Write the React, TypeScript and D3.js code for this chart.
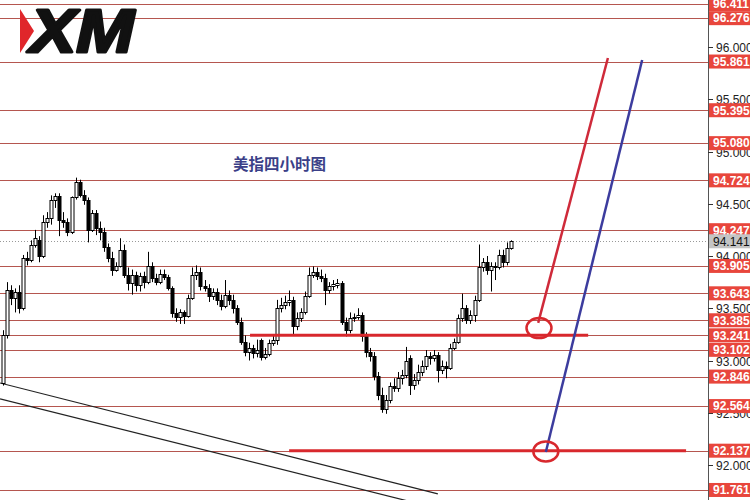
import * as d3 from 'd3';

// 4H candles: [open, high, low, close]
const candles: [number, number, number, number][] = [
  [92.78, 93.29, 92.76, 93.24], [93.24, 93.75, 93.21, 93.67], [93.67, 93.72, 93.53, 93.60], [93.60, 93.69, 93.46, 93.66],
  [93.66, 93.72, 93.45, 93.50], [93.50, 94.01, 93.48, 93.98], [93.98, 94.04, 93.91, 93.96], [93.96, 94.15, 93.94, 94.11],
  [94.11, 94.25, 94.08, 94.17], [94.15, 94.19, 93.94, 94.00], [94.00, 94.39, 93.98, 94.33], [94.33, 94.42, 94.27, 94.36],
  [94.36, 94.58, 94.30, 94.54], [94.54, 94.60, 94.46, 94.57], [94.57, 94.60, 94.19, 94.34], [94.34, 94.42, 94.27, 94.33],
  [94.33, 94.36, 94.19, 94.23], [94.23, 94.57, 94.21, 94.56], [94.56, 94.75, 94.54, 94.71], [94.71, 94.73, 94.56, 94.58],
  [94.58, 94.63, 94.49, 94.54], [94.54, 94.56, 94.13, 94.25], [94.25, 94.44, 94.23, 94.41], [94.41, 94.44, 94.20, 94.27],
  [94.27, 94.33, 94.15, 94.23], [94.23, 94.27, 94.04, 94.09], [94.09, 94.12, 93.94, 93.98], [93.98, 94.04, 93.81, 93.87],
  [93.87, 93.94, 93.85, 93.90], [93.90, 94.17, 93.89, 94.06], [94.06, 94.11, 93.79, 93.82], [93.82, 93.89, 93.67, 93.74],
  [93.74, 93.87, 93.63, 93.82], [93.82, 93.85, 93.66, 93.72], [93.72, 93.84, 93.66, 93.81], [93.81, 93.85, 93.69, 93.75],
  [93.75, 94.04, 93.73, 93.90], [93.90, 93.94, 93.75, 93.79], [93.79, 93.83, 93.72, 93.75], [93.75, 93.87, 93.73, 93.83],
  [93.83, 93.87, 93.77, 93.80], [93.80, 93.82, 93.67, 93.69], [93.69, 93.71, 93.41, 93.45], [93.45, 93.50, 93.37, 93.42],
  [93.42, 93.49, 93.35, 93.46], [93.46, 93.48, 93.35, 93.43], [93.43, 93.63, 93.41, 93.60], [93.60, 93.89, 93.58, 93.82],
  [93.82, 93.91, 93.77, 93.85], [93.85, 93.89, 93.67, 93.71], [93.71, 93.77, 93.66, 93.69], [93.69, 93.73, 93.56, 93.62],
  [93.62, 93.69, 93.58, 93.66], [93.66, 93.69, 93.53, 93.58], [93.58, 93.63, 93.48, 93.52], [93.52, 93.77, 93.50, 93.63],
  [93.63, 93.67, 93.53, 93.58], [93.58, 93.63, 93.45, 93.50], [93.50, 93.53, 93.34, 93.37], [93.37, 93.41, 93.15, 93.18],
  [93.18, 93.24, 93.04, 93.08], [93.08, 93.17, 93.00, 93.12], [93.12, 93.15, 93.02, 93.07], [93.07, 93.20, 93.03, 93.10],
  [93.20, 93.21, 93.00, 93.03], [93.03, 93.12, 93.01, 93.06], [93.06, 93.20, 93.04, 93.17], [93.17, 93.24, 93.14, 93.20],
  [93.20, 93.58, 93.15, 93.50], [93.50, 93.60, 93.46, 93.53], [93.53, 93.62, 93.49, 93.56], [93.56, 93.67, 93.52, 93.58],
  [93.58, 93.61, 93.24, 93.33], [93.33, 93.46, 93.29, 93.41], [93.41, 93.50, 93.37, 93.46], [93.46, 93.66, 93.44, 93.62],
  [93.62, 93.89, 93.60, 93.82], [93.82, 93.90, 93.79, 93.85], [93.85, 93.89, 93.77, 93.81], [93.81, 93.87, 93.75, 93.79],
  [93.79, 93.83, 93.53, 93.67], [93.67, 93.75, 93.64, 93.71], [93.71, 93.77, 93.67, 93.73], [93.72, 93.78, 93.69, 93.74],
  [93.74, 93.76, 93.34, 93.37], [93.37, 93.41, 93.23, 93.29], [93.29, 93.46, 93.26, 93.41], [93.41, 93.45, 93.37, 93.42],
  [93.42, 93.50, 93.39, 93.44], [93.44, 93.46, 93.18, 93.23], [93.23, 93.27, 93.03, 93.08], [93.08, 93.12, 92.99, 93.04],
  [93.04, 93.08, 92.81, 92.85], [92.85, 92.89, 92.62, 92.67], [92.67, 92.74, 92.50, 92.54], [92.54, 92.67, 92.49, 92.62],
  [92.62, 92.79, 92.59, 92.76], [92.76, 92.83, 92.70, 92.74], [92.74, 92.89, 92.70, 92.83], [92.83, 92.91, 92.77, 92.86],
  [92.86, 93.13, 92.83, 93.00], [93.02, 93.05, 92.67, 92.77], [92.77, 92.87, 92.72, 92.81], [92.81, 92.96, 92.77, 92.89],
  [92.89, 93.00, 92.85, 92.95], [92.95, 93.10, 92.91, 93.04], [93.04, 93.08, 92.96, 93.02], [93.02, 93.10, 92.99, 93.05],
  [93.05, 93.08, 92.79, 92.91], [92.91, 93.00, 92.87, 92.95], [92.95, 92.99, 92.83, 92.93], [92.93, 93.16, 92.91, 93.12],
  [93.12, 93.21, 93.10, 93.18], [93.18, 93.44, 93.16, 93.41], [93.41, 93.64, 93.37, 93.50], [93.50, 93.53, 93.35, 93.39],
  [93.39, 93.48, 93.35, 93.44], [93.44, 93.62, 93.37, 93.58], [93.58, 94.11, 93.56, 93.89], [93.89, 93.98, 93.85, 93.94],
  [93.94, 94.00, 93.82, 93.87], [93.87, 93.94, 93.66, 93.90], [93.90, 93.94, 93.77, 93.89], [93.89, 94.06, 93.87, 94.01],
  [94.01, 94.06, 93.89, 93.94], [93.94, 94.13, 93.91, 94.08], [94.08, 94.15, 94.06, 94.14],
];

const levels = [96.411, 96.276, 95.861, 95.395, 95.08, 94.724, 94.247, 93.905, 93.643, 93.385, 93.241, 93.102, 92.846, 92.564, 92.137, 91.761];
const axisTicks = [96.0, 95.5, 95.0, 94.5, 94.0, 93.5, 93.0, 92.5, 92.0];
const lastPrice = 94.141;
const title = '美指四小时图';

// annotations in [bar index, price]
const supportLines = [
  { price: 93.241, from: 61.3, to: 145.2 },
  { price: 92.137, from: 71, to: 169.5 },
];
const redArrow = [[132.8, 93.36], [150.1, 95.895]];
const blueArrow = [[134.7, 92.125], [158.6, 95.876]];
const circles = [[133, 93.31], [134.7, 92.13]];
const trendLines = [
  [[-0.74, 92.785], [107.9, 91.723]],
  [[-0.74, 92.632], [107.9, 91.584]],
];

const W = 750;
const H = 500;
const AXIS_X = 708;

export default function App() {
  const x = d3.scaleLinear().domain([0, candles.length - 1]).range([3, 3 + (candles.length - 1) * 4.03]);
  const y = d3.scaleLinear().domain([92, 96]).range([465, 47]);
  const fmt = d3.format('.3f');
  const font = '"Liberation Sans", Arial, sans-serif';

  return (
    <svg width={W} height={H} style={{ position: 'fixed', left: 0, top: 0, background: '#fff' }}>
      <defs>
        <clipPath id="plot">
          <rect x={0} y={0} width={AXIS_X} height={H} />
        </clipPath>
      </defs>

      {/* horizontal levels */}
      {levels.map((l) => (
        <line key={l} x1={0} x2={AXIS_X} y1={Math.round(y(l)) + 0.5} y2={Math.round(y(l)) + 0.5} stroke="#b5564f" strokeWidth={1} />
      ))}
      <line x1={0} x2={AXIS_X} y1={Math.round(y(lastPrice)) + 0.5} y2={Math.round(y(lastPrice)) + 0.5}
        stroke="#999" strokeWidth={1} strokeDasharray="1,2" />

      {/* logo */}
      <g>
        <polygon points="20,9 34,31 20,53" fill="#e0262b" />
        <text x={30} y={52} fontFamily={font} fontWeight={900} fontStyle="italic" fontSize={62}
          fill="#111" stroke="#111" strokeWidth={3} strokeLinejoin="round"
          textLength={104} lengthAdjust="spacingAndGlyphs">XM</text>
      </g>

      <text x={233} y={170} fontFamily='"Noto Sans CJK SC", sans-serif' fontWeight={700} fontSize={15.5} fill="#3b3f88">{title}</text>

      <g clipPath="url(#plot)">
        {trendLines.map((t, i) => (
          <line key={i} x1={x(t[0][0])} y1={y(t[0][1])} x2={x(t[1][0])} y2={y(t[1][1])} stroke="#222" strokeWidth={1.2} />
        ))}

        {/* candles */}
        {candles.map(([o, h, l, c], i) => {
          const cx = Math.round(x(i)) + 0.5;
          const top = Math.round(y(Math.max(o, c))) + 0.5;
          const bot = Math.round(y(Math.min(o, c))) + 0.5;
          const up = c >= o;
          return (
            <g key={i}>
              <line x1={cx} x2={cx} y1={y(h)} y2={y(l)} stroke="#000" strokeWidth={1} />
              <rect x={cx - 1.5} y={top} width={3} height={Math.max(bot - top, 0.5)}
                fill={up ? '#fff' : '#000'} stroke="#000" strokeWidth={1} />
            </g>
          );
        })}

        {supportLines.map((s) => (
          <line key={s.price} x1={x(s.from)} x2={x(s.to)} y1={y(s.price)} y2={y(s.price)} stroke="#d8282d" strokeWidth={3} />
        ))}
        <line x1={x(redArrow[0][0])} y1={y(redArrow[0][1])} x2={x(redArrow[1][0])} y2={y(redArrow[1][1])}
          stroke="#cf2a3a" strokeWidth={2.5} />
        <line x1={x(blueArrow[0][0])} y1={y(blueArrow[0][1])} x2={x(blueArrow[1][0])} y2={y(blueArrow[1][1])}
          stroke="#3c3c9e" strokeWidth={2.5} />
        {circles.map((c, i) => (
          <ellipse key={i} cx={x(c[0])} cy={y(c[1])} rx={12.5} ry={10} fill="none" stroke="#d8282d" strokeWidth={2.5} />
        ))}
      </g>

      {/* price axis */}
      <line x1={AXIS_X + 0.5} x2={AXIS_X + 0.5} y1={0} y2={H} stroke="#555" strokeWidth={1} />
      {axisTicks.map((t) => (
        <g key={t} transform={`translate(${AXIS_X},${Math.round(y(t)) + 0.5})`}>
          <line x1={0} x2={5} stroke="#333" />
          <text x={8} dy="0.36em" fontFamily={font} fontSize={12} fill="#222">{fmt(t)}</text>
        </g>
      ))}
      {levels.map((l) => (
        <g key={l} transform={`translate(${AXIS_X + 1},${y(l)})`}>
          <rect x={0} y={-7} width={W - AXIS_X} height={14} fill="#e8463c" />
          <text x={4} dy="0.36em" fontFamily={font} fontWeight={700} fontSize={12} fill="#fff">{fmt(l)}</text>
        </g>
      ))}
      <g transform={`translate(${AXIS_X + 1},${y(lastPrice)})`}>
        <rect x={0} y={-7} width={W - AXIS_X} height={14} fill="#c4c4c4" />
        <text x={4} dy="0.36em" fontFamily={font} fontSize={12} fill="#111">{fmt(lastPrice)}</text>
      </g>
    </svg>
  );
}
